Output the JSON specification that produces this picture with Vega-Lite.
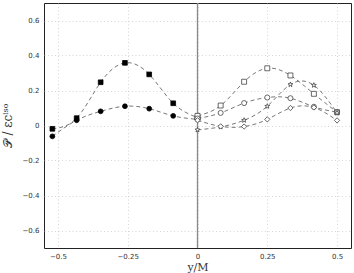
{
  "$schema": "https://vega.github.io/schema/vega-lite/v6.json",
  "autosize": {"type": "none"},
  "padding": {"left": 44, "top": 3, "right": 3, "bottom": 25},
  "width": 307,
  "height": 245,
  "background": "white",
  "config": {
    "view": {"stroke": "#222", "strokeWidth": 1},
    "axis": {
      "labelFont": "DejaVu Sans", "labelFontSize": 7, "labelColor": "#333",
      "grid": true, "gridColor": "#c4c4c4", "gridDash": [1, 2.5], "gridWidth": 0.7,
      "domain": false, "ticks": false,
      "titleFont": "DejaVu Serif", "titleFontWeight": "normal", "titleColor": "#333"
    }
  },
  "datasets": {
    "pts": [
      {"s": "fsq", "x": -0.52, "y": -0.019}, {"s": "fsq", "x": -0.433, "y": 0.042}, {"s": "fsq", "x": -0.347, "y": 0.247}, {"s": "fsq", "x": -0.26, "y": 0.358}, {"s": "fsq", "x": -0.173, "y": 0.292}, {"s": "fsq", "x": -0.087, "y": 0.127}, {"s": "fsq", "x": 0, "y": 0.045},
      {"s": "fci", "x": -0.52, "y": -0.062}, {"s": "fci", "x": -0.433, "y": 0.03}, {"s": "fci", "x": -0.347, "y": 0.081}, {"s": "fci", "x": -0.26, "y": 0.11}, {"s": "fci", "x": -0.173, "y": 0.096}, {"s": "fci", "x": -0.087, "y": 0.055}, {"s": "fci", "x": 0, "y": 0.035},
      {"s": "osq", "x": 0, "y": 0.055}, {"s": "osq", "x": 0.083, "y": 0.114}, {"s": "osq", "x": 0.167, "y": 0.25}, {"s": "osq", "x": 0.25, "y": 0.327}, {"s": "osq", "x": 0.333, "y": 0.286}, {"s": "osq", "x": 0.417, "y": 0.181}, {"s": "osq", "x": 0.5, "y": 0.076},
      {"s": "oci", "x": 0, "y": 0.04}, {"s": "oci", "x": 0.083, "y": 0.072}, {"s": "oci", "x": 0.167, "y": 0.128}, {"s": "oci", "x": 0.25, "y": 0.16}, {"s": "oci", "x": 0.333, "y": 0.156}, {"s": "oci", "x": 0.417, "y": 0.107}, {"s": "oci", "x": 0.5, "y": 0.076},
      {"s": "star", "x": 0, "y": -0.025}, {"s": "star", "x": 0.083, "y": -0.008}, {"s": "star", "x": 0.167, "y": 0.03}, {"s": "star", "x": 0.25, "y": 0.11}, {"s": "star", "x": 0.333, "y": 0.234}, {"s": "star", "x": 0.417, "y": 0.23}, {"s": "star", "x": 0.5, "y": 0.072},
      {"s": "dia", "x": 0, "y": 0.03}, {"s": "dia", "x": 0.083, "y": -0.005}, {"s": "dia", "x": 0.167, "y": -0.006}, {"s": "dia", "x": 0.25, "y": 0.035}, {"s": "dia", "x": 0.333, "y": 0.1}, {"s": "dia", "x": 0.417, "y": 0.103}, {"s": "dia", "x": 0.5, "y": 0.029}
    ],
    "zero": [{"x": 0}]
  },
  "layer": [
    {"data": {"name": "zero"},
     "mark": {"type": "rule", "color": "#888", "strokeWidth": 1.3},
     "encoding": {
       "x": {"field": "x", "type": "quantitative",
         "scale": {"domain": [-0.55, 0.55], "nice": false, "zero": false},
         "axis": {"orient": "bottom", "values": [-0.5, -0.25, 0, 0.25, 0.5], "format": ".2~f", "title": "y/M", "titleFontSize": 11, "labelPadding": 4, "titlePadding": 2}}
     }},
    {"data": {"name": "pts"},
     "mark": {"type": "line", "interpolate": "natural", "strokeDash": [4, 3], "strokeWidth": 0.8, "color": "#555"},
     "encoding": {
       "x": {"field": "x", "type": "quantitative"},
       "y": {"field": "y", "type": "quantitative",
         "scale": {"domain": [-0.7, 0.7], "nice": false},
         "axis": {"values": [-0.6, -0.4, -0.2, 0, 0.2, 0.4, 0.6], "format": ".1~f", "title": "𝒫 / εcⁱˢᵒ", "titleFontSize": 12, "labelPadding": 5, "titlePadding": 8}},
       "detail": {"field": "s", "type": "nominal"}
     }},
    {"data": {"name": "pts"},
     "mark": {"type": "point", "filled": false, "strokeWidth": 0.8, "opacity": 1},
     "encoding": {
       "x": {"field": "x", "type": "quantitative"},
       "y": {"field": "y", "type": "quantitative"},
       "shape": {"field": "s", "type": "nominal", "scale": {"domain": ["fsq", "fci", "osq", "oci", "star", "dia"], "range": ["square", "circle", "square", "circle", "M0,-1L0.235,-0.324L0.951,-0.309L0.38,0.124L0.588,0.809L0,0.4L-0.588,0.809L-0.38,0.124L-0.951,-0.309L-0.235,-0.324Z", "diamond"]}, "legend": null},
       "fill": {"field": "s", "type": "nominal", "scale": {"domain": ["fsq", "fci", "osq", "oci", "star", "dia"], "range": ["black", "black", "white", "white", "white", "white"]}, "legend": null},
       "stroke": {"field": "s", "type": "nominal", "scale": {"domain": ["fsq", "fci", "osq", "oci", "star", "dia"], "range": ["black", "black", "#444", "#444", "#444", "#444"]}, "legend": null},
       "size": {"field": "s", "type": "nominal", "scale": {"domain": ["fsq", "fci", "osq", "oci", "star", "dia"], "range": [22, 28, 25, 32, 40, 30]}, "legend": null}
     }}
  ]
}
